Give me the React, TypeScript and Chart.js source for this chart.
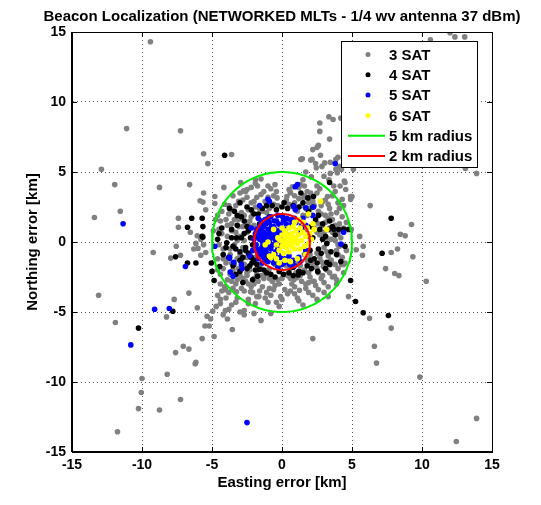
import React, { useEffect, useRef } from 'react';
import { Chart, registerables } from 'chart.js';

Chart.register(...registerables);

const titleText = 'Beacon Localization (NETWORKED MLTs - 1/4 wv antenna 37 dBm)';
const xAxisLabel = 'Easting error [km]';
const yAxisLabel = 'Northing error [km]';
const axisMin = -15;
const axisMax = 15;
const tickStep = 5;
const tickValues = [-15, -10, -5, 0, 5, 10, 15];

const seriesLabels = ['3 SAT', '4 SAT', '5 SAT', '6 SAT'];
const seriesColors = ['#808080', '#000000', '#0000ff', '#ffff00'];
const circleLabels = ['5 km radius', '2 km radius'];
const circleRadii = [5, 2];
const circleColors = ['#00ee00', '#ff0000'];

// 3 SAT (gray)
const sat3: [number, number][] = [
  [-9.4, 14.3], [-11.1, 8.1], [-7.25, 7.95], [-5.6, 6.3], [-3.6, 6.25], [-5.3, 5.6], [-12.9, 5.2], [-11.95, 4.1],
  [-8.75, 3.9], [-6.6, 4.1], [-5.6, 3.5], [-11.55, 2.2], [-13.4, 1.75], [-5.85, 2.95], [-5.65, 2.85], [-4.8, 2.75],
  [-4.8, 3.25], [-4.15, 3.9], [-7.4, 1.7], [-7.4, 1.05], [-6.55, 0.7], [-6.05, 0.45], [-5.8, 0.2], [-6.15, -0.1],
  [-6.3, -0.5], [-6.0, -0.45], [-5.8, -0.95], [-5.45, -0.75], [-5.6, -0.2], [-9.2, -0.75], [-7.55, -0.3], [-7.95, -1.15],
  [-7.25, -0.95], [-4.9, 0.8], [-4.75, 1.6], [-5.45, 2.3],
  [-13.1, -3.8], [-11.9, -5.75], [-7.7, -4.1], [-8.25, -5.35], [-6.65, -3.65], [-6.05, -4.7], [-5.35, -5.3], [-5.2, -6.0],
  [-5.7, -6.9], [-4.85, -6.75], [-5.1, -5.5], [-4.95, -4.95], [-4.7, -4.6], [-5.5, -6.0], [-7.05, -7.45], [-6.65, -7.65],
  [-7.6, -7.9], [-6.15, -8.6], [-6.2, -8.7], [-8.2, -9.45], [-10.0, -9.75], [-10.05, -10.75], [-10.25, -11.9], [-8.75, -12.0],
  [-7.25, -11.25], [-11.75, -13.55], [-3.55, -6.25], [-4.05, -4.9], [-2.7, -4.9], [-1.65, -3.9], [-0.8, -5.1], [-4.4, -4.1],
  [-4.05, -3.4], [-3.25, -3.55], [-2.4, -4.1], [-2.25, -3.55],
  [7.4, -1.9], [8.05, -2.25], [8.35, -2.4], [10.3, -2.8], [4.75, -3.9], [6.25, -5.45], [7.8, -6.15], [2.2, -6.9],
  [6.6, -7.45], [6.75, -8.65], [9.85, -9.65], [13.9, -12.6], [12.45, -14.25], [3.45, -1.6], [4.25, -1.6], [4.4, -1.6],
  [3.75, -2.45], [2.2, -2.8], [1.25, -3.45], [0.85, -2.7], [1.05, -2.55], [0.35, -2.3], [1.5, -2.1], [2.95, -1.75], [3.15, -1.6],
  [12.0, 14.95], [10.6, 14.45], [12.35, 14.65], [13.05, 14.65], [13.1, 5.25], [13.9, 4.9], [3.35, 8.95], [4.2, 8.85],
  [3.65, 8.75], [2.7, 8.5], [2.7, 7.9], [3.4, 7.35], [2.6, 6.9], [2.2, 6.6], [2.75, 6.2], [1.45, 5.95], [2.05, 5.85],
  [2.4, 5.6], [2.85, 5.4], [3.05, 5.65], [3.45, 5.7], [3.85, 5.9], [4.0, 6.05], [4.1, 5.4], [3.85, 5.2], [3.45, 4.9],
  [4.25, 5.2], [4.45, 4.35], [4.9, 3.25], [6.3, 2.6], [5.1, 5.2], [8.45, 0.55], [8.8, 0.45], [9.25, 1.25], [8.25, -0.5],
  [7.8, -0.75], [9.35, -1.05], [5.55, 0.4], [5.8, -0.3], [5.3, -0.55], [5.75, -0.95], [4.95, 0.9], [5.0, 3.25], [4.5, 4.25],
  [1.35, 5.9], [2.5, 6.75], [2.15, 5.9], [2.45, 5.3], [-2.95, 4.25], [-2.5, 3.75], [-2.75, 3.65], [-0.8, 3.8], [0.5, 3.75],
  [0.75, 3.95], [1.7, 5.0], [1.5, 4.45], [2.1, 4.65], [-1.9, 4.45], [2.5, 4.0], [2.05, 3.5], [3.0, 4.7], [3.95, 4.95],
  [3.35, 4.45], [3.7, 4.0], [4.15, 4.0], [4.55, 3.75], [4.9, 3.05], [1.3, 4.1], [0.6, 3.55], [-1.75, 4.0], [-0.35, 3.15],
  [0.35, 3.25], [1.55, 3.15], [1.9, 2.8], [3.25, 3.25], [4.05, 2.8], [4.3, 3.05],
  [-3.8, 2.0], [-3.3, 2.6], [-2.8, 3.0], [-2.2, 2.8], [-1.8, 3.2], [-1.2, 2.9], [-0.6, 3.3], [-3.9, 1.2], [-3.4, 1.6],
  [-2.9, 2.1], [-2.4, 2.3], [-1.9, 2.5], [-1.4, 2.2], [-0.9, 2.4], [-0.3, 2.6], [-4.3, 0.6], [-3.6, 0.8], [-3.1, 1.1],
  [-2.6, 1.4], [-2.2, 1.8], [-3.0, 0.4], [-2.5, 0.7], [-4.1, 2.7], [-3.5, 3.3], [-2.6, 3.6], [-1.3, 3.6], [-0.5, 4.1],
  [-1.9, 4.2], [-4.4, 1.5], [-2.0, 1.2],
  [0.3, 3.0], [0.9, 2.8], [1.4, 2.6], [2.0, 2.4], [2.6, 2.2], [3.1, 1.9], [3.6, 1.6], [4.1, 1.3], [1.1, 2.2], [1.8, 1.9],
  [2.4, 1.5], [2.9, 1.2], [3.4, 1.0], [4.0, 0.6], [2.2, 2.9], [2.8, 2.6], [3.4, 2.4], [3.9, 2.1], [4.3, 1.8], [1.6, 3.3],
  [2.5, 3.5], [3.1, 3.0], [3.6, 3.3], [4.0, 2.8], [0.6, 3.5], [1.2, 3.9], [2.3, 1.0], [2.7, 0.5], [3.2, 0.3], [3.8, 0.1],
  [-4.2, -0.5], [-3.7, -0.9], [-3.2, -1.2], [-2.7, -1.6], [-2.3, -2.0], [-1.8, -2.3], [-1.3, -2.6], [-0.7, -2.8],
  [-4.0, -1.5], [-3.5, -2.0], [-3.0, -2.4], [-2.6, -2.8], [-2.0, -3.0], [-1.4, -3.2], [-0.6, -3.4], [-4.4, -2.3],
  [-3.9, -2.7], [-3.3, -3.0], [-2.9, -3.3], [-2.1, -3.6], [-1.2, -4.0], [-0.4, -4.3], [-3.8, -3.6], [-3.2, -4.0],
  [-1.9, -4.4], [-2.3, -0.8], [-2.8, -0.4], [-3.4, -0.2], [-1.6, -1.8], [-1.0, -2.1], [-4.4, -3.0], [-3.6, -4.5],
  [-4.6, -3.8], [-2.7, -5.2], [-1.5, -5.6], [-3.9, -5.5],
  [0.4, -2.4], [1.0, -2.2], [1.6, -2.0], [2.2, -1.8], [2.8, -1.4], [3.3, -1.0], [3.9, -0.6], [4.3, -0.2], [0.7, -3.0],
  [1.4, -2.8], [2.0, -2.5], [2.6, -2.2], [3.2, -2.0], [3.8, -1.6], [4.3, -1.1], [0.2, -3.4], [0.9, -3.7], [1.7, -3.3],
  [2.4, -3.1], [3.0, -2.9], [3.6, -2.5], [1.2, -4.2], [2.2, -3.8], [3.0, -3.6], [3.9, -3.0], [-0.2, -3.0], [0.0, -2.6],
  [2.5, -0.8], [3.0, -0.4], [1.9, -1.2],
  [-0.5, -1.6], [0.3, -1.7], [1.0, -1.5], [-1.2, -1.3], [1.6, -0.9], [-1.7, 0.6],
  [-4.6, -1.2], [-4.2, -1.9], [-3.6, -1.5], [-3.1, -1.9], [-2.0, -1.4], [-2.5, -2.4], [-1.7, -2.8], [-0.9, -3.3],
  [-0.1, -3.9], [0.6, -3.5], [1.9, -2.9], [2.9, -2.4], [3.5, -1.3], [4.1, -0.3],
  [-3.6, 2.3], [-3.1, 2.9], [-2.5, 3.2], [-2.0, 2.9], [-1.5, 3.4], [-1.0, 3.2], [-0.4, 3.6], [-4.0, 1.6], [-3.6, 1.3],
  [-3.1, 1.6], [-2.7, 1.9], [-2.1, 2.1], [-1.6, 2.4], [-1.1, 2.1], [-0.6, 2.7], [-4.5, 0.9], [-3.9, 0.4], [-3.3, 0.7],
  [-2.8, 1.1], [-2.4, 1.2], [-3.2, 0.1], [-2.7, 0.1], [-4.3, 2.2], [-3.8, 2.6], [-3.0, 3.5], [-2.2, 3.9], [-1.0, 4.0],
  [-1.5, 4.5], [-4.6, 1.9], [-2.3, 1.5],
  [0.5, 2.7], [1.2, 3.1], [1.7, 2.4], [2.3, 2.6], [2.8, 2.0], [3.3, 1.7], [3.8, 1.2], [4.4, 1.0], [0.8, 2.5], [1.5, 1.9],
  [2.6, 1.3], [3.1, 1.4], [3.6, 0.7], [4.2, 0.3], [2.0, 3.2], [2.9, 2.9], [3.5, 2.0], [4.1, 2.4], [4.6, 1.4], [1.8, 3.6],
  [2.7, 3.8], [3.3, 2.7], [3.8, 3.6], [4.4, 2.6], [0.9, 3.3], [1.6, 4.0], [2.5, 0.7], [3.0, 0.7], [3.5, 0.2], [4.0, -0.2],
  [-4.5, -0.2], [-3.9, -1.2], [-3.4, -1.6], [-2.9, -1.4], [-2.5, -2.2], [-2.0, -2.6], [-1.5, -2.4], [-0.9, -2.6],
  [-4.2, -1.2], [-3.7, -2.3], [-3.2, -2.7], [-2.8, -2.6], [-2.2, -3.2], [-1.6, -3.5], [-0.8, -3.8], [-4.6, -2.0],
  [-4.1, -3.2], [-3.5, -3.3], [-2.7, -3.5], [-1.8, -3.9], [-1.0, -4.3], [-0.2, -4.6], [-4.0, -4.0], [-3.3, -4.3],
  [-2.4, -4.4], [-2.5, -1.1], [-3.0, -0.9], [-3.7, -0.5], [-1.8, -2.0], [-1.2, -2.3], [-4.3, -3.5], [-3.8, -4.8],
  [-4.4, -4.4], [-3.0, -5.0], [-2.0, -5.1], [-4.2, -5.2], [-0.5, -3.1], [-1.1, -3.6], [-2.4, -3.0], [-3.6, -2.8],
  [0.6, -2.6], [1.3, -2.4], [1.9, -2.2], [2.5, -1.9], [3.0, -1.6], [3.5, -1.3], [4.0, -0.9], [4.6, -0.6], [0.9, -3.2],
  [1.7, -3.0], [2.3, -2.8], [2.8, -2.6], [3.4, -2.2], [4.0, -1.9], [4.5, -1.5], [0.4, -3.7], [1.1, -4.0], [1.9, -3.6],
  [2.6, -3.4], [3.3, -3.2], [3.9, -2.7], [1.5, -4.5], [2.5, -4.1], [3.3, -3.9], [0.0, -4.1], [-0.3, -2.7], [2.7, -1.1],
  [3.2, -0.7], [2.1, -1.5], [4.4, -2.2],
  [-1.9, -1.1], [-1.5, -1.6], [-0.9, -1.9], [-0.2, -1.95], [0.6, -1.9], [1.3, -1.7], [1.8, -1.3], [2.0, -0.9], [-2.0, 1.0],
];

// 4 SAT (black)
const sat4: [number, number][] = [
  [-4.1, 6.2], [-3.75, 2.4], [-6.45, 1.7], [-5.7, 1.7], [-5.65, 1.1], [-6.75, 1.05], [-7.6, -1.05], [-6.75, -1.5],
  [-4.5, 0.6], [-5.65, 0.35], [-10.25, -6.15], [-7.8, -4.95], [-6.15, -1.5], [-5.05, -1.5], [-5.0, -2.1], [-4.85, -2.75],
  [-4.45, -1.75], [-5.7, 0.4], [-3.95, -0.05], [-3.25, 0.3], [-2.6, -0.4], [-2.25, 0.3], [-2.15, -1.5], [-1.6, -1.95],
  [-1.05, -1.35], [-1.75, -2.45], [4.9, -2.75], [5.25, -4.25], [5.8, -5.05], [7.6, -5.25], [2.05, -1.3], [2.55, -2.1],
  [3.2, -1.45], [1.15, -2.35], [3.4, 4.25], [1.35, 3.5], [2.25, 3.25], [1.85, 3.15], [0.15, 2.8], [7.8, 1.7], [7.15, -0.8],
  [3.3, 0.9], [3.7, 0.9], [4.05, 0.9], [4.4, 0.9], [4.75, 0.9],
  [-3.2, 1.9], [-2.7, 1.5], [-2.4, 0.8], [-2.9, 0.3], [-3.5, -0.3], [-2.6, -0.6], [-2.2, -1.1], [-3.0, -1.3], [-2.5, -1.9],
  [-1.8, -1.6], [-1.3, -2.0], [-0.8, -2.3], [-0.2, -2.1], [0.5, -2.2], [1.2, -2.1], [1.8, -1.7], [2.3, -1.2], [2.6, -0.5],
  [2.9, 0.2], [2.7, 0.9], [2.4, 1.6], [1.9, 2.2], [1.2, 2.5], [0.4, 2.4], [-0.4, 2.3], [-1.1, 2.6], [-1.7, 2.0], [-2.2, 2.3],
  [-3.6, 0.9], [-4.0, -0.4], [-3.8, -1.1], [-3.3, -2.3], [-2.1, -2.7], [3.1, -1.9],
  [3.5, -0.7], [3.8, 0.5], [3.4, 1.5], [-3.0, 2.8], [-1.9, 0.4], [-2.1, -0.2],
  [2.2, 0.3], [2.0, -0.6], [-4.3, 1.0], [-4.6, 0.2], [4.2, -1.4], [4.5, -0.3],
  [-1.2, -1.0], [1.4, 1.6], [-0.9, 1.8], [0.8, -1.8],
  [2.1, 1.1], [-2.8, -2.9], [-1.6, 1.3], [-3.0, -0.7], [3.2, -0.1],
  [-3.4, 2.2], [-2.9, 1.8], [-2.5, 1.1], [-2.7, 0.6], [-3.3, -0.5], [-2.4, -0.8], [-2.0, -1.3], [-2.8, -1.1], [-2.3, -1.7],
  [-1.9, -2.0], [-1.1, -2.2], [-0.5, -2.5], [0.1, -2.3], [0.8, -2.4], [1.5, -2.2], [2.1, -1.9], [2.5, -1.5], [2.8, -0.8],
  [3.1, 0.4], [2.9, 1.3], [2.6, 1.9], [2.2, 2.5], [1.5, 2.8], [0.8, 2.6], [0.0, 2.5], [-0.7, 2.6], [-1.4, 2.4], [-2.0, 2.0],
  [-2.5, 2.5], [-3.2, 1.2], [-3.6, 0.3], [-4.2, -0.9], [-3.5, -1.7], [-3.0, -2.1],
  [3.4, -1.6], [3.9, -0.9], [3.6, 1.1],
];

// 5 SAT (blue)
const sat5: [number, number][] = [
  [-11.35, 1.3], [-6.9, -1.75], [-4.8, -0.3], [-10.8, -7.35], [-9.1, -4.8], [-8.05, -4.75], [-2.5, -12.9], [-3.75, -1.15],
  [-3.45, -1.45], [-3.7, -2.15], [-3.5, -2.45], [-2.85, -1.9], [3.8, 5.6], [1.1, 4.1], [0.95, 3.95], [-1.0, 3.05],
  [-0.9, 2.9], [0.85, 2.55], [-1.6, 2.6], [0.95, 2.3], [1.7, 2.45], [2.25, 2.5], [2.2, 1.9], [-3.75, -1.1], [-2.9, -1.6],
  [4.2, -0.15], [4.4, 0.7],
  [-1.6, 0.2], [-1.5, 0.7], [-1.4, -0.3], [-1.3, 1.1], [-1.2, 0.4], [-1.1, -0.8], [-1.0, 0.9], [-0.9, 0.0], [-0.9, 1.4],
  [-0.8, -0.5], [-0.7, 0.6], [-0.6, 1.1], [-0.5, -1.0], [-0.5, 0.2], [-0.4, 1.5], [-0.3, -0.4], [-0.2, 0.8], [-0.1, 1.2],
  [0.0, -0.8], [0.1, 1.5], [0.2, -1.2], [0.3, 1.3], [0.5, -1.0], [0.6, 1.6], [0.8, -1.3], [1.0, 1.4], [1.2, -1.1],
  [1.4, 1.2], [1.7, -0.6], [1.9, 0.4], [-1.7, -0.6], [-1.5, 1.3], [-1.3, -1.1], [-1.2, 1.6], [-1.0, -1.4], [-0.8, 1.8],
  [-0.6, -1.5], [-0.3, 1.9], [0.0, -1.6], [-1.8, 0.9], [-1.4, 0.0], [-1.1, 0.2], [-0.8, 0.3], [-1.3, 0.7], [-0.6, 0.5],
  [-0.4, 0.0], [-0.9, -0.3], [-1.6, -0.9], [-2.0, 0.2], [-1.9, -0.4], [-0.2, -0.4], [0.2, 0.9], [0.4, 0.5], [-0.1, 0.4],
  [-2.2, 1.0], [-1.7, 1.7], [0.9, -1.7], [1.6, 0.9], [1.5, 1.7], [-2.3, -1.0], [-0.7, -1.1], [1.1, 0.8],
  [-1.75, 0.5], [-1.55, -0.5], [-1.45, 0.95], [-1.35, -0.75], [-1.25, 0.15], [-1.15, 1.3], [-1.05, -0.4], [-0.95, 0.6],
  [-0.85, -0.9], [-0.75, 1.1], [-0.65, -0.2], [-0.55, 1.5], [-0.45, -0.7], [-0.35, 0.7], [-0.25, 1.3], [-0.15, -1.1],
  [-0.05, 0.8], [0.05, 1.8], [0.15, -1.5], [0.35, 1.7], [0.55, -1.6], [0.7, 1.3], [-1.85, -0.2], [-1.7, -1.2], [-1.45, 1.5],
  [-1.0, 1.7], [-0.5, -1.3], [-1.2, -0.6], [-1.5, 0.4], [-0.7, 0.9], [-1.9, 0.6], [-2.1, -0.6], [1.3, -1.4], [1.7, 1.2],
  [0.9, 1.7], [-0.3, -1.8], [-1.4, -1.5], [-1.6, 1.1], [-0.1, -0.1], [-0.5, 0.9],
];

// 6 SAT (yellow)
const sat6: [number, number][] = [
  [-0.4, -0.2], [-0.3, 0.3], [-0.2, -0.6], [-0.1, 0.1], [0.0, 0.5], [0.0, -0.3], [0.1, -0.8], [0.2, 0.2], [0.2, 0.8],
  [0.3, -0.4], [0.4, 0.4], [0.4, -0.1], [0.5, 1.0], [0.5, -0.7], [0.6, 0.1], [0.7, 0.6], [0.7, -0.3], [0.8, 1.1],
  [0.9, 0.3], [0.9, -0.5], [1.0, 0.8], [1.1, -0.1], [1.2, 0.5], [1.3, 1.0], [1.4, 0.1], [1.5, 0.7], [1.6, -0.3],
  [1.7, 0.4], [1.8, 1.0], [1.9, -0.1], [2.0, 0.6], [0.1, -0.1], [0.3, 0.0], [0.6, -0.1], [0.8, 0.0], [0.3, 0.6],
  [-0.2, 0.2], [1.0, 0.2], [0.5, 0.3], [0.2, -0.3], [1.3, -0.5], [-0.6, -0.9], [-0.4, -1.2], [-0.9, -1.0], [0.2, -1.3],
  [-0.2, -1.5], [1.1, -1.2], [2.1, 0.2], [2.2, 1.3], [1.5, 1.4], [0.9, 1.4], [-0.6, 0.9], [2.75, 2.9], [1.9, 2.0],
  [2.3, 0.9], [-1.2, -0.2], [-0.8, -1.1], [1.7, -0.9], [0.6, -1.4], [-1.0, 0.0], [0.0, 1.0], [1.2, 1.6], [3.2, 0.9],
];

const font = '"Liberation Sans", Arial, Helvetica, sans-serif';

function circlePoints(r: number) {
  const pts: { x: number; y: number }[] = [];
  for (let i = 0; i <= 360; i += 2) {
    const a = (i * Math.PI) / 180;
    pts.push({ x: r * Math.cos(a), y: r * Math.sin(a) });
  }
  return pts;
}

const toXY = (arr: [number, number][]) => arr.map(([x, y]) => ({ x, y }));

const decorPlugin = {
  id: 'matlabDecor',
  afterDraw(chart: any) {
    const { ctx, chartArea: ca, scales } = chart;
    const xs = scales.x;
    const ys = scales.y;
    ctx.save();
    ctx.strokeStyle = '#000';
    ctx.lineWidth = 1;
    ctx.setLineDash([]);
    ctx.strokeRect(Math.round(ca.left) - 0.5, Math.round(ca.top) + 0.5, Math.round(ca.right - ca.left) + 1, Math.round(ca.bottom - ca.top) - 1);
    const tl = 5;
    ctx.beginPath();
    for (const v of tickValues) {
      const px = Math.round(xs.getPixelForValue(v)) + 0.5;
      ctx.moveTo(px, ca.bottom);
      ctx.lineTo(px, ca.bottom - tl);
      ctx.moveTo(px, ca.top);
      ctx.lineTo(px, ca.top + tl);
      const py = Math.round(ys.getPixelForValue(v)) + 0.5;
      ctx.moveTo(ca.left, py);
      ctx.lineTo(ca.left + tl, py);
      ctx.moveTo(ca.right, py);
      ctx.lineTo(ca.right - tl, py);
    }
    ctx.stroke();
    ctx.fillStyle = '#000';
    ctx.font = `bold 15px ${font}`;
    ctx.textAlign = 'center';
    ctx.textBaseline = 'middle';
    ctx.fillText(titleText, (ca.left + ca.right) / 2, 16.5);
    const lx = 341.5, ly = 41.5, lw = 136, lh = 126;
    ctx.fillStyle = '#fff';
    ctx.fillRect(lx, ly, lw, lh);
    ctx.strokeStyle = '#000';
    ctx.strokeRect(lx, ly, lw, lh);
    const labels = [...seriesLabels, ...circleLabels];
    const rowY0 = 54.5;
    const rowStep = 20.3;
    ctx.font = `bold 15px ${font}`;
    ctx.textAlign = 'left';
    ctx.textBaseline = 'middle';
    labels.forEach((lab, i) => {
      const y = rowY0 + i * rowStep;
      if (i < 4) {
        ctx.fillStyle = seriesColors[i];
        ctx.beginPath();
        ctx.arc(368, y, 2.5, 0, Math.PI * 2);
        ctx.fill();
      } else {
        ctx.strokeStyle = circleColors[i - 4];
        ctx.lineWidth = 2;
        ctx.beginPath();
        ctx.moveTo(348, y);
        ctx.lineTo(385, y);
        ctx.stroke();
      }
      ctx.fillStyle = '#000';
      ctx.fillText(lab, 389, y + 1);
    });
    ctx.restore();
  },
};

export default function App() {
  const ref = useRef<HTMLCanvasElement>(null);
  useEffect(() => {
    document.body.style.margin = '0';
    const pointDs = (data: [number, number][], color: string, order: number) => ({
      data: toXY(data),
      backgroundColor: color,
      borderColor: color,
      pointRadius: 2.8,
      pointBorderWidth: 0,
      pointHoverRadius: 2.8,
      showLine: false,
      order,
    });
    const chart = new Chart(ref.current as HTMLCanvasElement, {
      type: 'scatter',
      data: {
        datasets: [
          { label: seriesLabels[0], ...pointDs(sat3, seriesColors[0], 6) },
          { label: seriesLabels[1], ...pointDs(sat4, seriesColors[1], 5) },
          { label: seriesLabels[2], ...pointDs(sat5, seriesColors[2], 4) },
          { label: seriesLabels[3], ...pointDs(sat6, seriesColors[3], 3) },
          ...circleRadii.map((r, i) => ({
            label: circleLabels[i],
            data: circlePoints(r),
            showLine: true,
            borderColor: circleColors[i],
            backgroundColor: circleColors[i],
            borderWidth: 2,
            pointRadius: 0,
            fill: false,
            tension: 0,
            order: 2 - i,
          })),
        ],
      } as any,
      options: {
        animation: false,
        responsive: false,
        devicePixelRatio: 1,
        events: [],
        layout: { padding: { top: 32, right: 49, bottom: 0, left: 0 } },
        plugins: {
          legend: { display: false },
          tooltip: { enabled: false },
          title: { display: false },
        },
        scales: {
          x: {
            type: 'linear',
            min: axisMin,
            max: axisMax,
            afterFit: (s: any) => { s.height = 53; },
            ticks: { stepSize: tickStep, color: '#000', font: { family: font, size: 14, weight: 'bold' }, padding: 5 },
            grid: { color: '#555', lineWidth: 1, drawTicks: false },
            border: { display: true, color: '#000', dash: [1, 3] },
            title: { display: true, text: xAxisLabel, color: '#000', font: { family: font, size: 15, weight: 'bold' }, padding: { top: 0, bottom: 13 } },
          },
          y: {
            type: 'linear',
            min: axisMin,
            max: axisMax,
            afterFit: (s: any) => { s.width = 72; },
            ticks: { stepSize: tickStep, color: '#000', font: { family: font, size: 14, weight: 'bold' }, padding: 6 },
            grid: { color: '#555', lineWidth: 1, drawTicks: false },
            border: { display: true, color: '#000', dash: [1, 3] },
            title: { display: true, text: yAxisLabel, color: '#000', font: { family: font, size: 15, weight: 'bold' }, padding: { top: 24, bottom: 0 } },
          },
        },
      } as any,
      plugins: [decorPlugin],
    });
    return () => chart.destroy();
  }, []);
  return (
    <div style={{ width: 541, height: 505, position: 'relative', background: '#fff' }}>
      <canvas ref={ref} width={541} height={505} style={{ display: 'block' }} />
    </div>
  );
}
